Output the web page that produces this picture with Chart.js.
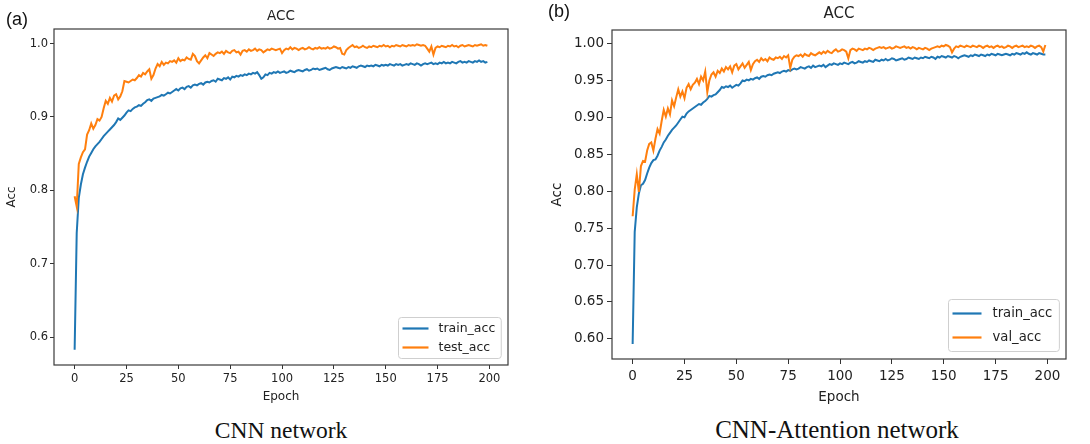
<!DOCTYPE html>
<html>
<head>
<meta charset="utf-8">
<script src="https://cdn.jsdelivr.net/npm/chart.js@4.4.1/dist/chart.umd.min.js"></script>
<style>
  html, body { margin: 0; padding: 0; background: #fff; }
  #page { position: relative; width: 1090px; height: 444px; overflow: hidden; background: #fff; }
  canvas { position: absolute; top: 0; }
  .tag { position: absolute; font-family: 'Liberation Sans', Arial, sans-serif; font-size: 18px; line-height: 18px; color: #111; }
  .caption { position: absolute; width: 400px; text-align: center; font-family: 'Liberation Serif', 'Times New Roman', serif; color: #111; white-space: nowrap; }
</style>
</head>
<body>
<div id="page">
  <canvas id="accA" width="545" height="410" style="left:0"></canvas>
  <canvas id="accB" width="545" height="410" style="left:545px"></canvas>
  <div class="tag" style="left:6px;top:10px">(a)</div>
  <div class="tag" style="left:548px;top:2px">(b)</div>
  <div class="caption" style="left:81px;top:419px;font-size:23.5px;line-height:23.5px">CNN network</div>
  <div class="caption" style="left:637px;top:417px;font-size:25px;line-height:25px">CNN-Attention network</div>
</div>
<script>
// epochs 0..199 on the x axis
const epochs = Array.from({ length: 200 }, (_, i) => i);
const epochTicks = [0, 25, 50, 75, 100, 125, 150, 175, 200];
const epochLabels = ['0', '25', '50', '75', '100', '125', '150', '175', '200'];

const accTicksA = [0.6, 0.7, 0.8, 0.9, 1.0];
const accLabelsA = ['0.6', '0.7', '0.8', '0.9', '1.0'];
const accTicksB = [0.60, 0.65, 0.70, 0.75, 0.80, 0.85, 0.90, 0.95, 1.00];
const accLabelsB = ['0.60', '0.65', '0.70', '0.75', '0.80', '0.85', '0.90', '0.95', '1.00'];

// (a) CNN network
const trainAccA = [
  0.583, 0.742, 0.790, 0.808, 0.822, 0.831, 0.839, 0.846, 0.851, 0.856,
  0.860, 0.863, 0.866, 0.870, 0.874, 0.877, 0.880, 0.883, 0.886, 0.889,
  0.893, 0.898, 0.896, 0.899, 0.902, 0.906, 0.909, 0.908, 0.911, 0.913,
  0.914, 0.916, 0.915, 0.918, 0.920, 0.923, 0.924, 0.922, 0.925, 0.926,
  0.927, 0.928, 0.930, 0.929, 0.931, 0.933, 0.932, 0.934, 0.936, 0.938,
  0.936, 0.939, 0.940, 0.938, 0.941, 0.942, 0.940, 0.943, 0.944, 0.943,
  0.945, 0.946, 0.944, 0.947, 0.948, 0.947, 0.949, 0.950, 0.948, 0.952,
  0.951, 0.950, 0.953, 0.952, 0.954, 0.951, 0.955, 0.954, 0.956, 0.955,
  0.957, 0.956, 0.958, 0.957, 0.959, 0.958, 0.960, 0.959, 0.961, 0.957,
  0.952, 0.954, 0.958, 0.957, 0.960, 0.959, 0.961, 0.960, 0.962, 0.960,
  0.961, 0.962, 0.960, 0.961, 0.963, 0.962, 0.961, 0.963, 0.964, 0.963,
  0.962, 0.964, 0.965, 0.963, 0.964, 0.966, 0.965, 0.966, 0.964, 0.965,
  0.966, 0.967, 0.965, 0.964, 0.966, 0.967, 0.968, 0.967, 0.966, 0.968,
  0.967, 0.966, 0.968, 0.967, 0.969, 0.968, 0.967, 0.969, 0.970, 0.969,
  0.968, 0.970, 0.969, 0.970, 0.969, 0.971, 0.970, 0.969, 0.971, 0.970,
  0.971, 0.970, 0.972, 0.971, 0.970, 0.972, 0.971, 0.972, 0.970, 0.971,
  0.972, 0.971, 0.973, 0.972, 0.971, 0.973, 0.972, 0.970, 0.972, 0.973,
  0.972, 0.973, 0.974, 0.972, 0.973, 0.972, 0.974, 0.973, 0.975, 0.973,
  0.974, 0.973, 0.975, 0.974, 0.973, 0.975, 0.976, 0.974, 0.975, 0.974,
  0.976, 0.975, 0.974, 0.976, 0.975, 0.977, 0.975, 0.976, 0.974, 0.975
];
const testAccA = [
  0.792, 0.778, 0.836, 0.845, 0.852, 0.856, 0.876, 0.882, 0.891, 0.884,
  0.889, 0.897, 0.895, 0.900, 0.912, 0.922, 0.918, 0.926, 0.921, 0.929,
  0.931, 0.924, 0.928, 0.935, 0.949, 0.948, 0.947, 0.949, 0.951, 0.950,
  0.953, 0.957, 0.955, 0.960, 0.958, 0.962, 0.965, 0.952, 0.957, 0.966,
  0.972, 0.969, 0.975, 0.971, 0.974, 0.973, 0.976, 0.975, 0.977, 0.974,
  0.980, 0.976, 0.978, 0.977, 0.981, 0.979, 0.978, 0.986, 0.983, 0.976,
  0.973, 0.977, 0.981, 0.984, 0.980, 0.987, 0.985, 0.983, 0.986, 0.988,
  0.987, 0.989, 0.986, 0.990, 0.988, 0.987, 0.990, 0.991, 0.988, 0.989,
  0.985, 0.990, 0.991, 0.989, 0.992, 0.990, 0.991, 0.993, 0.990, 0.992,
  0.991, 0.988, 0.990, 0.992, 0.991, 0.993, 0.992, 0.991, 0.992, 0.993,
  0.987, 0.991, 0.993, 0.992, 0.995, 0.992, 0.994, 0.993, 0.991, 0.993,
  0.994, 0.992, 0.993, 0.995, 0.993, 0.992, 0.994, 0.993, 0.995, 0.993,
  0.994, 0.993, 0.995, 0.993, 0.994, 0.996, 0.995, 0.993, 0.994, 0.986,
  0.985, 0.991, 0.994, 0.996, 0.998, 0.995, 0.996, 0.994, 0.995, 0.997,
  0.995, 0.994, 0.996, 0.995, 0.997, 0.996, 0.995, 0.997, 0.996, 0.998,
  0.996, 0.997, 0.995, 0.997, 0.996, 0.998, 0.997, 0.996, 0.998, 0.997,
  0.996, 0.998, 0.997, 0.998, 0.997, 0.999, 0.998, 0.997, 0.998, 0.997,
  0.993, 0.989, 0.996, 0.985, 0.994, 0.996, 0.995, 0.997, 0.996, 0.995,
  0.997, 0.996, 0.998, 0.996, 0.997, 0.995, 0.997, 0.998, 0.996, 0.997,
  0.998, 0.997, 0.996, 0.998, 0.997, 0.998, 0.999, 0.997, 0.998, 0.997
];

// (b) CNN-Attention network
const trainAccB = [
  0.593, 0.745, 0.778, 0.797, 0.808, 0.810, 0.815, 0.824, 0.832, 0.838,
  0.842, 0.843, 0.848, 0.855, 0.860, 0.866, 0.870, 0.875, 0.879, 0.883,
  0.886, 0.889, 0.893, 0.897, 0.901, 0.900, 0.905, 0.908, 0.910, 0.912,
  0.914, 0.916, 0.918, 0.917, 0.920, 0.922, 0.925, 0.929, 0.928, 0.930,
  0.931, 0.934, 0.937, 0.941, 0.940, 0.942, 0.941, 0.943, 0.940, 0.942,
  0.944, 0.943, 0.946, 0.950, 0.949, 0.951, 0.950, 0.952, 0.951, 0.953,
  0.954, 0.952, 0.955, 0.956, 0.955, 0.957, 0.958, 0.957, 0.959, 0.960,
  0.961, 0.960, 0.962, 0.963, 0.962, 0.964, 0.963, 0.965, 0.966, 0.965,
  0.966, 0.968, 0.967, 0.966, 0.968, 0.969, 0.967, 0.970, 0.968, 0.969,
  0.970, 0.969, 0.971, 0.968, 0.970, 0.972, 0.971, 0.973, 0.972, 0.971,
  0.973, 0.972, 0.974, 0.973, 0.972, 0.974, 0.975, 0.973, 0.974, 0.976,
  0.975, 0.974, 0.976, 0.975, 0.977, 0.976, 0.975, 0.978, 0.977, 0.976,
  0.978, 0.977, 0.979, 0.977, 0.978, 0.980, 0.979, 0.977, 0.978, 0.979,
  0.980, 0.978, 0.979, 0.981, 0.980, 0.979, 0.981, 0.980, 0.979, 0.981,
  0.980, 0.982, 0.981, 0.980, 0.982, 0.981, 0.979, 0.982, 0.981, 0.983,
  0.982, 0.981, 0.983, 0.982, 0.981, 0.983, 0.982, 0.980, 0.982, 0.983,
  0.984, 0.983, 0.982, 0.984, 0.983, 0.985, 0.984, 0.983, 0.985, 0.984,
  0.983, 0.985, 0.984, 0.986, 0.985, 0.984, 0.986, 0.985, 0.984, 0.985,
  0.986, 0.985, 0.984, 0.986, 0.985, 0.987, 0.986, 0.985, 0.987, 0.986,
  0.988, 0.986, 0.985, 0.987, 0.986, 0.985, 0.987, 0.986, 0.985, 0.985
];
const valAccB = [
  0.766, 0.802, 0.823, 0.799, 0.834, 0.841, 0.840, 0.855, 0.864, 0.866,
  0.855, 0.871, 0.884, 0.878, 0.895, 0.910, 0.901, 0.912, 0.904, 0.923,
  0.915, 0.927, 0.938, 0.928, 0.935, 0.926, 0.940, 0.945, 0.938, 0.944,
  0.947, 0.952, 0.945, 0.955, 0.950, 0.962, 0.934, 0.950, 0.958, 0.961,
  0.955, 0.963, 0.960, 0.966, 0.962, 0.968, 0.965, 0.969, 0.961, 0.970,
  0.972, 0.965, 0.969, 0.973, 0.967, 0.971, 0.975, 0.964, 0.972, 0.976,
  0.978, 0.975, 0.980, 0.977, 0.979, 0.976, 0.981, 0.979, 0.978, 0.981,
  0.980, 0.982, 0.979, 0.983, 0.981, 0.984, 0.967, 0.978, 0.982, 0.984,
  0.983, 0.985, 0.982, 0.986, 0.984, 0.983, 0.987, 0.985, 0.984, 0.986,
  0.988, 0.986, 0.989, 0.987, 0.990, 0.988, 0.987, 0.990, 0.992, 0.989,
  0.990, 0.992, 0.991, 0.989, 0.980, 0.991, 0.993, 0.992, 0.990, 0.993,
  0.992, 0.991, 0.993, 0.992, 0.994, 0.993, 0.991, 0.993, 0.994, 0.995,
  0.994, 0.995, 0.993, 0.994, 0.995, 0.993, 0.994, 0.996, 0.995, 0.994,
  0.995, 0.996, 0.994, 0.995, 0.993, 0.995, 0.994, 0.992, 0.994, 0.993,
  0.992, 0.994, 0.993, 0.991, 0.993, 0.994, 0.995, 0.996, 0.995, 0.997,
  0.996, 0.998, 0.997, 0.995, 0.988, 0.993, 0.996, 0.995, 0.997, 0.996,
  0.995, 0.997, 0.996, 0.995, 0.997, 0.996, 0.995, 0.997, 0.996, 0.994,
  0.996, 0.997, 0.995, 0.996, 0.994, 0.996, 0.997, 0.995, 0.996, 0.994,
  0.995, 0.997, 0.996, 0.994, 0.996, 0.997, 0.995, 0.996, 0.997, 0.995,
  0.996, 0.995, 0.997, 0.996, 0.994, 0.996, 0.997, 0.995, 0.989, 0.998
];

const BLUE = '#1f77b4';
const ORANGE = '#ff7f0e';
const TEXT = '#222';
const FONT = "'DejaVu Sans', Verdana, sans-serif";

// black box round the plot area, like matplotlib spines
const frame = {
    id: 'frame',
    afterDatasetsDraw(chart) {
        const { ctx, chartArea: a } = chart;
        ctx.save();
        ctx.strokeStyle = '#3a3a3a';
        ctx.lineWidth = 1.2;
        ctx.strokeRect(a.left, a.top, a.right - a.left, a.bottom - a.top);
        ctx.restore();
    }
};

// legend box in the lower right corner of the plot area
const boxLegend = {
    id: 'boxLegend',
    afterDraw(chart, args, o) {
        const { ctx, chartArea: a } = chart;
        const items = chart.data.datasets;
        ctx.save();
        ctx.font = `${o.size}px ${FONT}`;
        const tw = Math.max(...items.map(d => ctx.measureText(d.label).width));
        const w = o.padL + o.line + o.gap + tw + o.padR;
        const h = o.row * items.length + o.padY * 2;
        const x = Math.round(a.right - o.insetX - w) + 0.5;
        const y = Math.round(a.bottom - o.insetY - h) + 0.5;
        ctx.fillStyle = 'rgba(255,255,255,0.85)';
        ctx.strokeStyle = '#cfcfcf';
        ctx.lineWidth = 1;
        ctx.beginPath();
        ctx.roundRect(x, y, w, h, 3);
        ctx.fill();
        ctx.stroke();
        items.forEach((d, i) => {
            const cy = y + o.padY + o.row * (i + 0.5);
            ctx.strokeStyle = d.borderColor;
            ctx.lineWidth = 2.2;
            ctx.beginPath();
            ctx.moveTo(x + o.padL, cy);
            ctx.lineTo(x + o.padL + o.line, cy);
            ctx.stroke();
            ctx.fillStyle = TEXT;
            ctx.textBaseline = 'middle';
            ctx.fillText(d.label, x + o.padL + o.line + o.gap, cy + 0.5);
        });
        ctx.restore();
    }
};

function makeChart(id, cfg) {
    const ctx = document.getElementById(id).getContext('2d');
    const all = cfg.series.flatMap(s => s.data);
    const lo = Math.min(...all), hi = Math.max(...all);
    const my = (hi - lo) * 0.05;
    const mx = (epochs[epochs.length - 1] - epochs[0]) * 0.05;

    return new Chart(ctx, {
        type: 'line',
        data: {
            labels: epochs,
            datasets: cfg.series.map((s, i) => ({
                label: s.label,
                data: s.data,
                borderColor: s.color,
                borderWidth: 2,
                pointRadius: 0,
                tension: 0,
                fill: false,
                order: cfg.series.length - i
            }))
        },
        options: {
            responsive: false,
            animation: false,
            events: [],
            layout: { padding: { left: 0, right: cfg.padRight, top: 0, bottom: 0 } },
            plugins: {
                legend: { display: false },
                tooltip: { enabled: false },
                title: {
                    display: true,
                    text: 'ACC',
                    fullSize: false,
                    color: TEXT,
                    font: { family: FONT, size: cfg.titleSize, weight: 'normal', lineHeight: cfg.titleLH },
                    padding: cfg.titlePad
                },
                boxLegend: cfg.legend
            },
            scales: {
                x: {
                    type: 'linear',
                    min: epochs[0] - mx,
                    max: epochs[epochs.length - 1] + mx,
                    afterFit: s => { s.height = cfg.xAxisH; },
                    afterBuildTicks: s => { s.ticks = epochTicks.map(v => ({ value: v })); },
                    ticks: {
                        autoSkip: false,
                        maxRotation: 0,
                        color: TEXT,
                        padding: cfg.xTickPad,
                        font: { family: FONT, size: cfg.tickSize },
                        callback: (v, i) => epochLabels[i]
                    },
                    grid: { drawOnChartArea: false, tickLength: cfg.tickLen, tickColor: '#333', tickWidth: 1 },
                    border: { display: false },
                    title: {
                        display: true,
                        text: 'Epoch',
                        color: TEXT,
                        font: { family: FONT, size: cfg.labelSize, lineHeight: cfg.labelLH },
                        padding: { top: 0, bottom: cfg.xTitlePad }
                    }
                },
                y: {
                    min: lo - my,
                    max: hi + my,
                    afterFit: s => { s.width = cfg.yAxisW; },
                    afterBuildTicks: s => { s.ticks = cfg.yTicks.map(v => ({ value: v })); },
                    ticks: {
                        autoSkip: false,
                        color: TEXT,
                        padding: cfg.yTickPad,
                        font: { family: FONT, size: cfg.tickSize },
                        callback: (v, i) => cfg.yLabels[i]
                    },
                    grid: { drawOnChartArea: false, tickLength: cfg.tickLen, tickColor: '#333', tickWidth: 1 },
                    border: { display: false },
                    title: {
                        display: true,
                        text: 'Acc',
                        color: TEXT,
                        font: { family: FONT, size: cfg.labelSize, lineHeight: cfg.labelLH },
                        padding: { top: cfg.yTitlePad, bottom: 0 }
                    }
                }
            }
        },
        plugins: [frame, boxLegend]
    });
}

makeChart('accA', {
    series: [
        { label: 'train_acc', data: trainAccA, color: BLUE },
        { label: 'test_acc', data: testAccA, color: ORANGE }
    ],
    yTicks: accTicksA,
    yLabels: accLabelsA,
    padRight: 37,
    yAxisW: 54,
    xAxisH: 45,
    titleSize: 13.5, titleLH: '16px', titlePad: { top: 8, bottom: 5 },
    tickSize: 11.5, tickLen: 4, xTickPad: 3, yTickPad: 2,
    labelSize: 12, labelLH: '14px', xTitlePad: 6, yTitlePad: 5,
    legend: { size: 12.5, row: 19, padY: 1.5, padL: 4, line: 26, gap: 10, padR: 6, insetX: 7, insetY: 7 }
});

makeChart('accB', {
    series: [
        { label: 'train_acc', data: trainAccB, color: BLUE },
        { label: 'val_acc', data: valAccB, color: ORANGE }
    ],
    yTicks: accTicksB,
    yLabels: accLabelsB,
    padRight: 24,
    yAxisW: 67,
    xAxisH: 51,
    titleSize: 15, titleLH: '18px', titlePad: { top: 5, bottom: 7 },
    tickSize: 13.5, tickLen: 5, xTickPad: 4, yTickPad: 3,
    labelSize: 13.5, labelLH: '16px', xTitlePad: 5, yTitlePad: 4.5,
    legend: { size: 13.2, row: 24, padY: 2, padL: 4, line: 29, gap: 11, padR: 7, insetX: 7, insetY: 8 }
});
</script>
</body>
</html>
